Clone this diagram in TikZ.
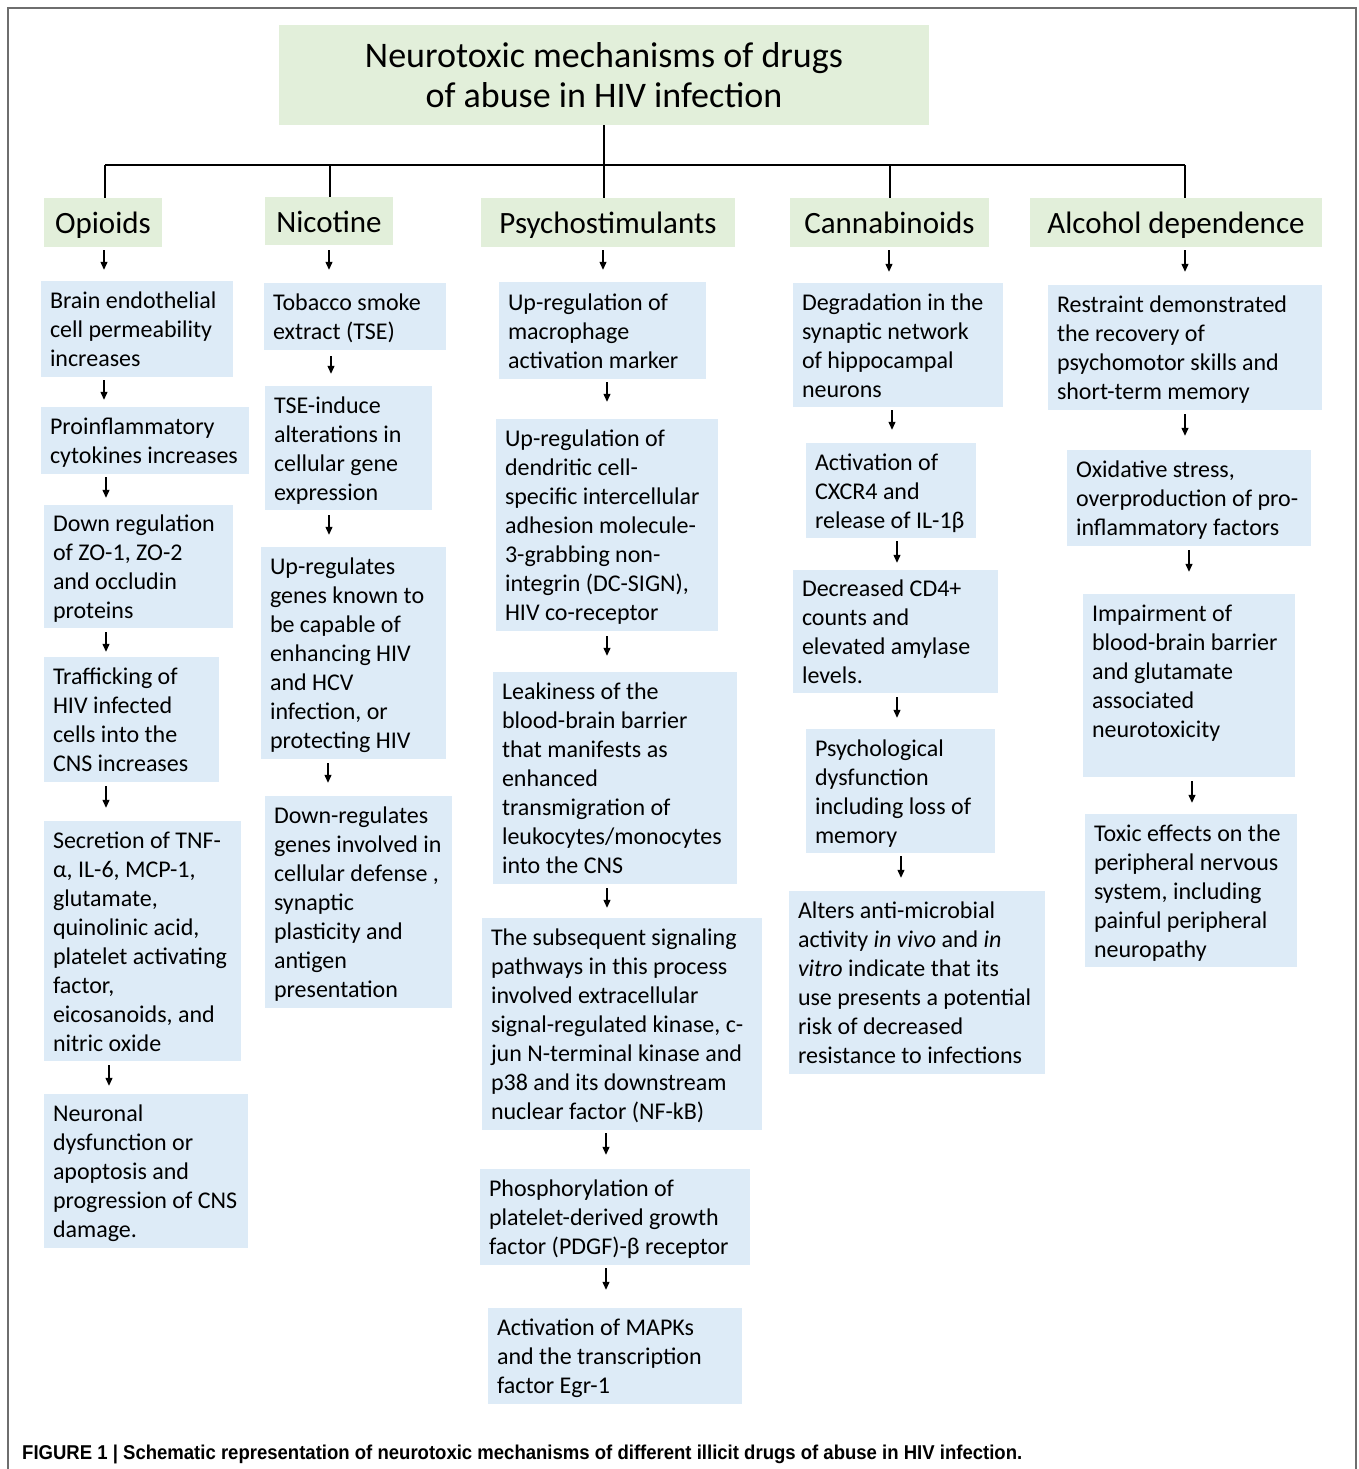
\documentclass[tikz,border=0pt]{standalone}
\usepackage{fontspec}
\setmainfont{Carlito}
\newfontfamily\capfont{Liberation Sans}
\usetikzlibrary{arrows.meta}
\definecolor{hdgreen}{RGB}{226,239,218}
\definecolor{bxblue}{RGB}{221,235,247}
\definecolor{framegray}{RGB}{110,110,110}
\newcommand\mybox[7]{%
  \pgfmathsetmacro\bw{#5-#3}\pgfmathsetmacro\bh{#6-#4}%
  \pgfmathsetmacro\cx{(#3+#5)/2}\pgfmathsetmacro\cy{(#4+#6)/2}%
  \pgfmathsetmacro\tw{#5-#3-18}%
  \node[#2, minimum width=\bw pt, minimum height=\bh pt] (#1) at (\cx,\cy)
    {\raisebox{-3pt}[\height][\depth]{\makebox[\tw pt][l]{\begin{tabular}{@{}l@{}}#7\end{tabular}}}};}
\newcommand\hdbox[6]{%
  \pgfmathsetmacro\bw{#4-#2}\pgfmathsetmacro\bh{#5-#3}%
  \pgfmathsetmacro\cx{(#2+#4)/2}\pgfmathsetmacro\cy{(#3+#5)/2}%
  \node[hd, minimum width=\bw pt, minimum height=\bh pt] (#1) at (\cx,\cy) {#6};}
\newcommand\conn[5]{\draw[arr, shorten <=#4pt, shorten >=#5pt] (#1.south -| #3,0) -- (#2.north -| #3,0);}
\begin{document}
\begin{tikzpicture}[x=1pt,y=-1pt,
  bx/.style={fill=bxblue, draw=none, inner xsep=9pt, inner ysep=0pt,
    font=\fontsize{24}{29}\selectfont},
  hd/.style={fill=hdgreen, draw=none, inner sep=0pt, text height=27pt, text depth=5pt,
    font=\fontsize{31}{36}\selectfont},
  arr/.style={draw=black, line width=1.2pt, -{Triangle[width=7pt,length=8pt]}},
  tree/.style={draw=black, line width=2.5pt}]
\useasboundingbox (0,0) rectangle (1358,1469);
\fill[white] (0,0) rectangle (1358,1469);
\draw[framegray, line width=2pt] (8,1475) -- (8,8) -- (1356,8) -- (1356,1475);

% title
\node[fill=hdgreen, inner sep=0pt, minimum width=650pt, minimum height=100pt, align=center,
  font=\fontsize{36}{40}\selectfont] (title) at (604,75) {Neurotoxic mechanisms of drugs\\of abuse in HIV infection};

% headers
\hdbox{opi}{44}{198}{162}{247}{Opioids}
\hdbox{nic}{265}{197}{393}{245}{Nicotine}
\hdbox{psy}{481}{198}{735}{247}{Psychostimulants}
\hdbox{can}{790}{198}{989}{247}{Cannabinoids}
\hdbox{alc}{1030}{198}{1322}{247}{Alcohol dependence}

% tree
\coordinate (barL) at (105,165);
\coordinate (barR) at (1185,165);
\draw[tree] (title.south) -- (psy.north -| title.south);
\draw[tree] (barL) -- (barR);
\draw[tree] (opi.north -| barL) -- (barL);
\draw[tree] (nic.north -| 330,0) -- (barL -| 330,0);
\draw[tree] (can.north -| 890,0) -- (barL -| 890,0);
\draw[tree] (alc.north -| barR) -- (barR);

% Opioids column
\mybox{b1}{bx}{41}{281}{233}{377}{Brain endothelial\\cell permeability\\increases}
\mybox{b2}{bx}{41}{407}{249}{474}{Proinflammatory\\cytokines increases}
\mybox{b3}{bx}{44}{505}{233}{628}{Down regulation\\of ZO-1, ZO-2\\and occludin\\proteins}
\mybox{b4}{bx}{44}{657}{219}{782}{Trafficking of\\HIV infected\\cells into the\\CNS increases}
\mybox{b5}{bx}{44}{821}{241}{1061}{Secretion of TNF-\\α, IL-6, MCP-1,\\glutamate,\\quinolinic acid,\\platelet activating\\factor,\\eicosanoids, and\\nitric oxide}
\mybox{b6}{bx}{44}{1094}{248}{1248}{Neuronal\\dysfunction or\\apoptosis and\\progression of CNS\\damage.}

% Nicotine column
\mybox{n1}{bx}{264}{283}{446}{350}{Tobacco smoke\\extract (TSE)}
\mybox{n2}{bx}{265}{386}{432}{510}{TSE-induce\\alterations in\\cellular gene\\expression}
\mybox{n3}{bx}{261}{547}{446}{759}{Up-regulates\\genes known to\\be capable of\\enhancing HIV\\and HCV\\infection, or\\protecting HIV}
\mybox{n4}{bx}{265}{796}{452}{1008}{Down-regulates\\genes involved in\\cellular defense ,\\synaptic\\plasticity and\\antigen\\presentation}

% Psychostimulants column
\mybox{p1}{bx}{499}{282}{706}{379}{Up-regulation of\\macrophage\\activation marker}
\mybox{p2}{bx}{496}{419}{718}{631}{Up-regulation of\\dendritic cell-\\specific intercellular\\adhesion molecule-\\3-grabbing non-\\integrin (DC-SIGN),\\HIV co-receptor}
\mybox{p3}{bx}{493}{672}{737}{884}{Leakiness of the\\blood-brain barrier\\that manifests as\\enhanced\\transmigration of\\leukocytes/monocytes\\into the CNS}
\mybox{p4}{bx}{482}{918}{762}{1130}{The subsequent signaling\\pathways in this process\\involved extracellular\\signal-regulated kinase, c-\\jun N-terminal kinase and\\p38 and its downstream\\nuclear factor (NF-kB)}
\mybox{p5}{bx}{480}{1169}{750}{1265}{Phosphorylation of\\platelet-derived growth\\factor (PDGF)-β receptor}
\mybox{p6}{bx}{488}{1308}{742}{1404}{Activation of MAPKs\\and the transcription\\factor Egr-1}

% Cannabinoids column
\mybox{c1}{bx}{793}{283}{1003}{407}{Degradation in the\\synaptic network\\of hippocampal\\neurons}
\mybox{c2}{bx}{806}{443}{976}{538}{Activation of\\CXCR4 and\\release of IL-1β}
\mybox{c3}{bx}{793}{570}{998}{693}{Decreased CD4+\\counts and\\elevated amylase\\levels.}
\mybox{c4}{bx}{806}{729}{995}{853}{Psychological\\dysfunction\\including loss of\\memory}
\mybox{c5}{bx}{789}{891}{1045}{1074}{Alters anti-microbial\\activity \textit{in vivo} and \textit{in}\\\textit{vitro} indicate that its\\use presents a potential\\risk of decreased\\resistance to infections}

% Alcohol column
\mybox{a1}{bx}{1048}{285}{1322}{410}{Restraint demonstrated\\the recovery of\\psychomotor skills and\\short-term memory}
\mybox{a2}{bx}{1067}{450}{1311}{546}{Oxidative stress,\\overproduction of pro-\\inflammatory factors}
\mybox{a3}{bx}{1083}{594}{1295}{777}{Impairment of\\blood-brain barrier\\and glutamate\\associated\\neurotoxicity\\\mbox{}}
\mybox{a4}{bx}{1085}{814}{1297}{967}{Toxic effects on the\\peripheral nervous\\system, including\\painful peripheral\\neuropathy}

% arrows
\conn{opi}{b1}{104}{3}{11}
\conn{b1}{b2}{104}{3}{7}
\conn{b2}{b3}{106}{3}{7}
\conn{b3}{b4}{106}{4}{5}
\conn{b4}{b5}{106}{4}{13}
\conn{b5}{b6}{109}{4}{8}
\conn{nic}{n1}{329}{5}{13}
\conn{n1}{n2}{331}{6}{12}
\conn{n2}{n3}{329}{5}{12}
\conn{n3}{n4}{328}{4}{13}
\conn{psy}{p1}{603}{3}{12}
\conn{p1}{p2}{607}{3}{17}
\conn{p2}{p3}{607}{5}{16}
\conn{p3}{p4}{607}{4}{10}
\conn{p4}{p5}{606}{3}{14}
\conn{p5}{p6}{606}{3}{18}
\conn{can}{c1}{889}{3}{11}
\conn{c1}{c2}{892}{3}{13}
\conn{c2}{c3}{897}{3}{7}
\conn{c3}{c4}{897}{4}{11}
\conn{c4}{c5}{901}{3}{13}
\conn{alc}{a1}{1185}{3}{13}
\conn{a1}{a2}{1185}{4}{14}
\conn{a2}{a3}{1189}{4}{22}
\conn{a3}{a4}{1192}{4}{11}

% caption
\node[anchor=base west, inner sep=0pt] (cap) at (22,1459)
  {\resizebox{1000pt}{\height}{\capfont\bfseries\fontsize{20}{24}\selectfont FIGURE 1 | Schematic representation of neurotoxic mechanisms of different illicit drugs of abuse in HIV infection.}};
\end{tikzpicture}
\end{document}
